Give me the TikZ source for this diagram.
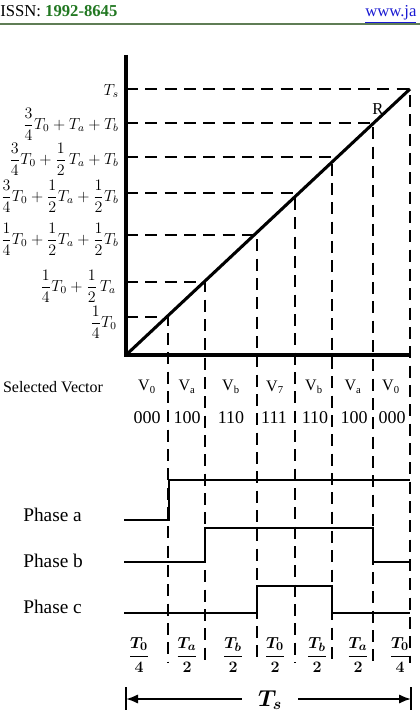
\documentclass[tikz,border=0pt]{standalone}
\usepackage[no-math]{fontspec}
\setmainfont{Liberation Serif}
\usetikzlibrary{arrows.meta}
\definecolor{issngreen}{RGB}{34,120,34}
\definecolor{rulegreen}{RGB}{95,125,85}
\definecolor{linkblue}{RGB}{25,25,210}
\begin{document}
\begin{tikzpicture}[x=0.75pt,y=-0.75pt,
  axisline/.style={line width=2.3pt},
  guide/.style={line width=2.1pt, dash pattern=on 9pt off 5.5pt},
  wave/.style={line width=1.8pt},
  lvl/.style={anchor=east, inner sep=0pt, font=\fontsize{12}{14}\selectfont},
  vec/.style={inner sep=0pt, font=\fontsize{12}{14}\selectfont},
  code/.style={inner sep=0pt, font=\fontsize{13.5}{15}\selectfont},
  phase/.style={anchor=west, inner sep=0pt, font=\fontsize{14.5}{16}\selectfont},
  frac/.style={inner sep=0pt, font=\fontsize{12.5}{14}\selectfont\boldmath},
  hdr/.style={anchor=base west, inner sep=0pt, font=\fontsize{12.5}{14}\selectfont}
]
\useasboundingbox (0,0) rectangle (420,716);

% header
\node[hdr] (issn) at (0,17) {ISSN: \textbf{\color{issngreen}1992-8645}};
\node[hdr, text=linkblue] (www) at (365,17) {\underline{www.ja}};
\coordinate (rl) at (0,24);
\coordinate (rr) at (420,24);
\draw[rulegreen, line width=1.2pt] (rl) -- (rr);

% guide lines
\foreach \n/\x/\y in {1/168/317, 2/205/282, 3/257/235, 4/295/193, 5/332/157, 6/373/123, 7/410/89}{
  \coordinate (a\n) at (126,\y);
  \coordinate (p\n) at (\x,\y);
  \coordinate (b\n) at (\x,663);
  \draw[guide] (a\n) -- (p\n) -- (b\n);
}

% axes and diagonal
\coordinate (O) at (126,355);
\coordinate (ytop) at (126,55);
\coordinate (xend) at (410,355);
\draw[axisline] (ytop) -- (O) -- (xend);
\draw[axisline] (O) -- (p7);
\node[font=\fontsize{12.5}{14}\selectfont, inner sep=0pt] (R) at (378,109) {R};

% level labels
\node[lvl] (l7) at (119,91) {$T_s$};
\node[lvl] (l6) at (119,124) {$\displaystyle\frac{3}{4}T_0+T_a+T_b$};
\node[lvl] (l5) at (119,159) {$\displaystyle\frac{3}{4}T_0+\frac{1}{2}\,T_a+T_b$};
\node[lvl] (l4) at (119,196) {$\displaystyle\frac{3}{4}T_0+\frac{1}{2}T_a+\frac{1}{2}T_b$};
\node[lvl] (l3) at (119,239) {$\displaystyle\frac{1}{4}T_0+\frac{1}{2}T_a+\frac{1}{2}T_b$};
\node[lvl] (l2) at (116,286) {$\displaystyle\frac{1}{4}T_0+\frac{1}{2}\,T_a$};
\node[lvl] (l1) at (117,322) {$\displaystyle\frac{1}{4}T_0$};

% selected vectors
\node[vec] (sel) at (53,387) {Selected Vector};
\node[vec] (v1) at (147,387) {V\textsubscript{0}};
\node[vec] (v2) at (187,387) {V\textsubscript{a}};
\node[vec] (v3) at (231,387) {V\textsubscript{b}};
\node[vec] (v4) at (275,387) {V\textsubscript{7}};
\node[vec] (v5) at (314,387) {V\textsubscript{b}};
\node[vec] (v6) at (353,387) {V\textsubscript{a}};
\node[vec] (v7) at (391,387) {V\textsubscript{0}};
\node[code] (c1) at (147,418) {000};
\node[code] (c2) at (187,418) {100};
\node[code] (c3) at (231,418) {110};
\node[code] (c4) at (274,418) {111};
\node[code] (c5) at (315,418) {110};
\node[code] (c6) at (354,418) {100};
\node[code] (c7) at (392,418) {000};

% phases
\node[phase] (pa) at (23,515) {Phase a};
\node[phase] (pb) at (23,561) {Phase b};
\node[phase] (pc) at (23,607) {Phase c};
\draw[wave] (124,520) -- (169,520) -- (169,480) -- (410,480);
\draw[wave] (124,562) -- (205,562) -- (205,528) -- (373,528) -- (373,562) -- (410,562);
\draw[wave] (124,613) -- (257,613) -- (257,586) -- (332,586) -- (332,613) -- (410,613);

% bottom fractions
\node[frac] (f1) at (139,655) {$\displaystyle\frac{T_0}{4}$};
\node[frac] (f2) at (187,655) {$\displaystyle\frac{T_a}{2}$};
\node[frac] (f3) at (233,655) {$\displaystyle\frac{T_b}{2}$};
\node[frac] (f4) at (275,655) {$\displaystyle\frac{T_0}{2}$};
\node[frac] (f5) at (317,655) {$\displaystyle\frac{T_b}{2}$};
\node[frac] (f6) at (358,655) {$\displaystyle\frac{T_a}{2}$};
\node[frac] (f7) at (400,655) {$\displaystyle\frac{T_0}{4}$};

% Ts span arrow
\coordinate (sl) at (126,699);
\coordinate (sr) at (411,699);
\coordinate (slt) at (126,687);
\coordinate (slb) at (126,710);
\coordinate (srt) at (411,687);
\coordinate (srb) at (411,710);
\draw[line width=1.1pt] (slt) -- (slb);
\draw[line width=1.1pt] (srt) -- (srb);
\node[inner xsep=12pt, inner ysep=0pt, font=\fontsize{17}{19}\selectfont\boldmath] (ts) at (270,700) {$T_s$};
\draw[line width=1.5pt, -{Latex[length=9pt,width=7pt]}] (ts.west |- sl) -- (sl);
\draw[line width=1.5pt, -{Latex[length=9pt,width=7pt]}] (ts.east |- sr) -- (sr);
\end{tikzpicture}
\end{document}
